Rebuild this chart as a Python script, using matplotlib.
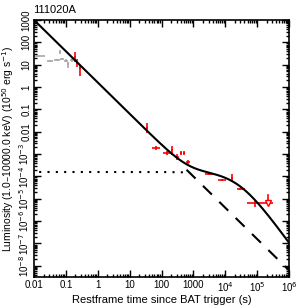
import numpy as np
import matplotlib
matplotlib.use("Agg")
import matplotlib.pyplot as plt
from matplotlib.ticker import FixedLocator, FixedFormatter, LogLocator, NullFormatter

plt.rcParams['font.family'] = ['Liberation Sans', 'DejaVu Sans']

title = "111020A"
xlabel = "Restframe time since BAT trigger (s)"
ylabel = "Luminosity (1.0\u201310000.0 keV) (10$^{50}$ erg s$^{-1}$)"

# grey (BAT) points: log10 values
grey_lt = [-1.87, -1.50, -1.28, -1.18, -1.12, -1.00, -0.93, -0.81]
grey_lt_lo = [-2.03, -1.60, -1.36, -1.22, -1.18, -1.06, -0.97, -0.86]
grey_lt_hi = [-1.66, -1.40, -1.20, -1.14, -1.06, -0.94, -0.89, -0.76]
grey_lL = [1.39, 1.17, 1.21, 1.57, 1.26, 1.17, 1.04, 1.21]
grey_lL_lo = [1.34, 1.12, 1.15, 1.50, 1.20, 1.10, 0.85, 1.12]
grey_lL_hi = [1.44, 1.22, 1.27, 1.64, 1.32, 1.24, 1.12, 1.30]

# red (XRT) points
red_lt = [-0.71, -0.64, -0.57, 1.55, 1.83, 2.17, 2.33, 2.49, 2.61, 2.71, 2.83,
          3.49, 3.90, 4.21, 4.46, 4.93]
red_lt_lo = [-0.73, -0.67, -0.60, 1.52, 1.71, 2.05, 2.31, 2.44, 2.57, 2.68, 2.78,
             3.36, 3.78, 4.17, 4.36, 4.68]
red_lt_hi = [-0.69, -0.61, -0.54, 1.58, 1.96, 2.30, 2.36, 2.54, 2.65, 2.74, 2.88,
             3.61, 4.02, 4.25, 4.61, 5.18]
red_lL = [1.35, 1.08, 0.85, -1.83, -2.73, -2.95, -2.82, -3.13, -2.95, -2.95, -3.35,
          -3.89, -4.16, -4.07, -4.56, -5.19]
red_lL_lo = [1.10, 0.90, 0.50, -2.05, -2.80, -3.02, -3.05, -3.25, -3.05, -3.05, -3.45,
             -3.95, -4.22, -4.25, -4.62, -5.35]
red_lL_hi = [1.55, 1.25, 1.00, -1.60, -2.66, -2.88, -2.65, -3.00, -2.85, -2.85, -3.25,
             -3.83, -4.10, -3.90, -4.50, -5.05]

# upper limit
ul_lt = [5.34]
ul_lt_lo = [5.18]
ul_lt_hi = [5.50]
ul_lL = [-5.19]
ul_lL_top = [-4.85]

# model parameters
pl_norm = 3.0      # log L at t = 0.01 s
pl_index = -1.4
mag_L0 = -3.8      # log plateau luminosity
mag_T = 2.6e4      # plateau duration (s)

xticks = [0.01, 0.1, 1, 10, 100, 1000, 1e4, 1e5, 1e6]
xticklabels = ["0.01", "0.1", "1", "10", "100", "1000", "10$^4$", "10$^5$", "10$^6$"]
yticks = [1e-8, 1e-7, 1e-6, 1e-5, 1e-4, 1e-3, 0.01, 0.1, 1, 10, 100, 1000]
yticklabels = ["10$^{-8}$", "10$^{-7}$", "10$^{-6}$", "10$^{-5}$", "10$^{-4}$", "10$^{-3}$",
               "0.01", "0.1", "1", "10", "100", "1000"]

fig = plt.figure(figsize=(3.0, 3.07), dpi=100)
ax = fig.add_axes([34/300, 1-277/307, 255/300, 257/307])
ax.set_xscale('log')
ax.set_yscale('log')

def errs(c, lo, hi):
    c = np.array(c); lo = np.array(lo); hi = np.array(hi)
    return 10**c, np.vstack([10**c - 10**lo, 10**hi - 10**c])

x, xe = errs(grey_lt, grey_lt_lo, grey_lt_hi)
y, ye = errs(grey_lL, grey_lL_lo, grey_lL_hi)
ax.errorbar(x, y, xerr=xe, yerr=ye, fmt='none', ecolor='#a8a8a8', elinewidth=1.2, capsize=0)

x, xe = errs(red_lt, red_lt_lo, red_lt_hi)
y, ye = errs(red_lL, red_lL_lo, red_lL_hi)
ax.errorbar(x, y, xerr=xe, yerr=ye, fmt='none', ecolor='red', elinewidth=1.2, capsize=0)

# upper limit
x, xe = errs(ul_lt, ul_lt_lo, ul_lt_hi)
ax.errorbar(x, 10**np.array(ul_lL), xerr=xe, fmt='none', ecolor='red', elinewidth=1.2)
ax.plot([x[0], x[0]], [10**ul_lL_top[0], 10**ul_lL[0]], color='red', lw=1.2)
ax.plot(x, 10**np.array(ul_lL), marker='v', ms=5, mfc='white', mec='red', mew=1.0, ls='none')

t = np.logspace(-2.1, 6.1, 600)
pl = 10**pl_norm * (t/0.01)**pl_index
mag = 10**mag_L0 * (1 + t/mag_T)**-2
ax.plot(t, pl + mag, color='black', lw=1.5)
tt = t[t >= 600]
ax.plot(tt, 10**pl_norm * (tt/0.01)**pl_index, color='black', lw=1.5, ls=(0, (6, 5)))
td = t[t <= 700]
ax.plot(td, 10**mag_L0 * (1 + td/mag_T)**-2, color='black', lw=1.5, ls=(0, (1, 3)))

ax.set_xlim(0.01, 1e6)
ax.set_ylim(10**-8.5, 10**3.0)

ax.xaxis.set_major_locator(FixedLocator(xticks))
ax.xaxis.set_major_formatter(FixedFormatter(xticklabels))
ax.yaxis.set_major_locator(FixedLocator(yticks))
ax.yaxis.set_major_formatter(FixedFormatter(yticklabels))
ax.xaxis.set_minor_locator(LogLocator(base=10, subs=np.arange(2, 10), numticks=50))
ax.yaxis.set_minor_locator(LogLocator(base=10, subs=np.arange(2, 10), numticks=50))
ax.xaxis.set_minor_formatter(NullFormatter())
ax.yaxis.set_minor_formatter(NullFormatter())
ax.tick_params(which='both', direction='in', top=True, right=True, labelsize=7, width=1)
ax.tick_params(which='major', length=5)
ax.tick_params(which='minor', length=2.5)
ax.tick_params(axis='y', pad=2)
ax.tick_params(axis='x', pad=2.5)
for lab in ax.get_yticklabels():
    lab.set_rotation(90)
    lab.set_va('center')
for s in ax.spines.values():
    s.set_linewidth(1.2)

ax.set_xlabel(xlabel, fontsize=8, labelpad=0.5)
ax.set_ylabel(ylabel, fontsize=7.5, labelpad=1)
fig.text(33/300, 1-10/307, title, fontsize=8, va='center', ha='left')

fig.savefig("out.png", dpi=100)
